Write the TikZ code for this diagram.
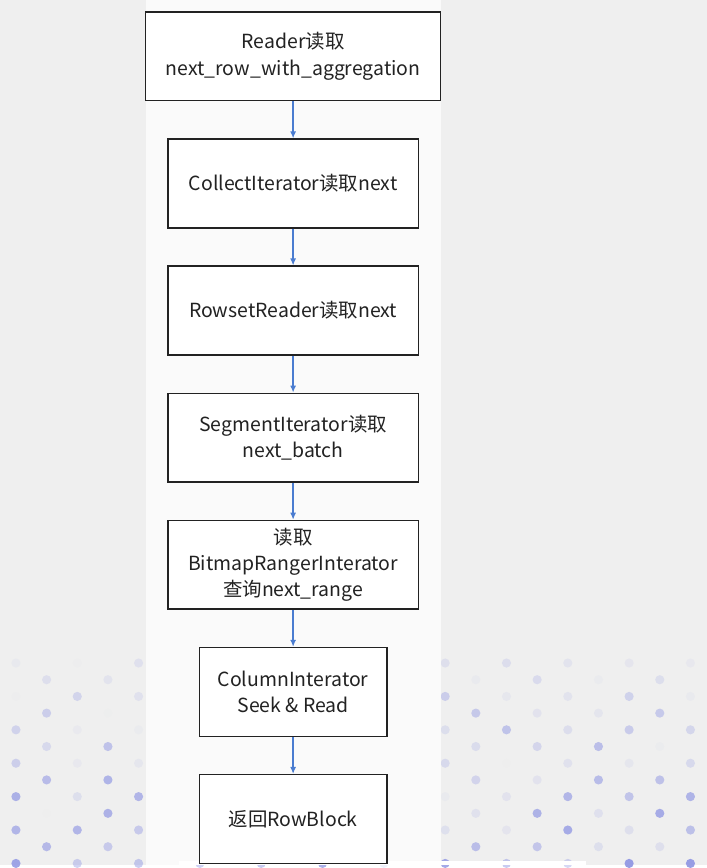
\documentclass[tikz,border=0pt]{standalone}
\usepackage{fontspec}
\setmainfont{Noto Sans CJK SC}
\usetikzlibrary{chains,positioning,arrows.meta}
\definecolor{flowblue}{RGB}{74,124,208}
\definecolor{boxline}{RGB}{34,34,34}
\definecolor{pagegray}{RGB}{239,239,239}
\definecolor{panelwhite}{RGB}{250,250,250}
\definecolor{dotblue}{RGB}{150,156,228}

\begin{document}
\begin{tikzpicture}
  [
    x=1pt,y=-1pt,
    widebox/.style={  draw=boxline,  line width=1.5pt,  fill=white,  align=center,  minimum width=296pt,  minimum height=89pt,  inner sep=2pt,  text=boxline,  font=\fontsize{19.5}{26.5}\selectfont},
    midbox/.style={  widebox,  minimum width=251pt,  join = by flowarrow},
    slimbox/.style={  widebox,  minimum width=188pt,  join = by flowarrow},
    flowarrow/.style={-{Latex[length=7pt,width=6pt]},  draw=flowblue,  line width=1.3pt},
    start chain=going below,node distance=37pt
  ]
  % page, dots and the light panel
  \fill[pagegray] (0,0) rectangle (709,868);
  \pgfmathsetseed{42}
  \foreach \j in {0,...,12}
    \foreach \k in {0,...,22}{
      \pgfmathtruncatemacro\odd{mod(\k+\j,2)}
      \pgfmathsetmacro\op{rnd*(0.3+0.7*\j/12)}
      \ifnum\odd=0
        \fill[dotblue,opacity=\op] (16+30.75*\k,665+16.75*\j) circle (4.6pt);
      \fi
    }
  \fill[panelwhite] (146,0) rectangle (442,868);
  \fill[white] (180,864) rectangle (588,868);

  \node[on chain,widebox] at (294,56.5) (reader) {Reader读取\\next\_row\_with\_aggregation};
  \node[on chain,midbox] (collect) {CollectIterator读取next};
  \node[on chain,midbox] (rowset) {RowsetReader读取next};
  \node[on chain,midbox] (segment) {SegmentIterator读取\\next\_batch};
  \node[on chain,midbox] (bitmap) {读取\\BitmapRangerInterator\\查询next\_range};
  \node[on chain,slimbox] (column) {ColumnInterator\\Seek \& Read};
  \node[on chain,slimbox] (rowblock) {返回RowBlock};
\end{tikzpicture}
\end{document}
